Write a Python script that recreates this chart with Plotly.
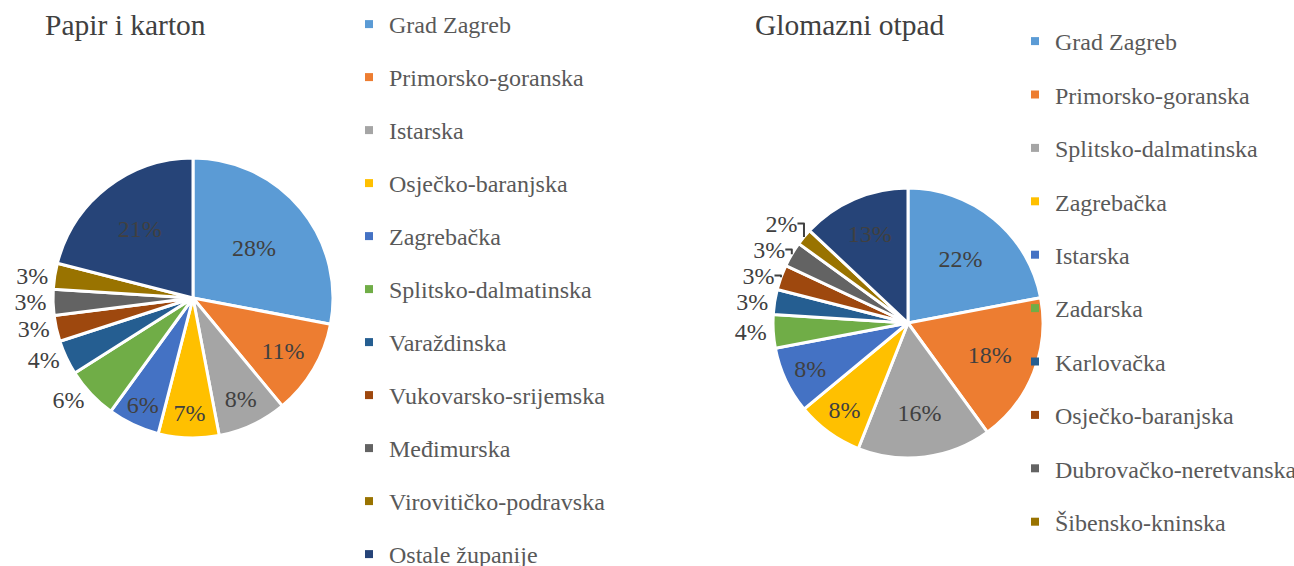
import plotly.graph_objects as go

# ---- data ----
labels_papir = ["Grad Zagreb", "Primorsko-goranska", "Istarska", "Osječko-baranjska",
                "Zagrebačka", "Splitsko-dalmatinska", "Varaždinska", "Vukovarsko-srijemska",
                "Međimurska", "Virovitičko-podravska", "Ostale županije"]
values_papir = [28, 11, 8, 7, 6, 6, 4, 3, 3, 3, 21]

labels_glom = ["Grad Zagreb", "Primorsko-goranska", "Splitsko-dalmatinska", "Zagrebačka",
               "Istarska", "Zadarska", "Karlovačka", "Osječko-baranjska",
               "Dubrovačko-neretvanska", "Šibensko-kninska", "Ostale županije"]
values_glom = [22, 18, 16, 8, 8, 4, 3, 3, 3, 2, 13]

colors = ["#5B9BD5", "#ED7D31", "#A5A5A5", "#FFC000", "#4472C4", "#70AD47",
          "#255E91", "#9E480E", "#636363", "#997300", "#264478"]

pos_papir = ["inside"] * 5 + ["outside"] * 5 + ["inside"]
pos_glom = ["inside"] * 5 + ["outside"] * 5 + ["inside"]

FONT = "Liberation Serif, Times New Roman, serif"
TXT = "#404040"
LEG = "#595959"

fig = go.Figure()

fig.add_trace(go.Pie(
    labels=labels_papir, values=values_papir, sort=False, direction="clockwise",
    marker=dict(colors=colors, line=dict(color="white", width=3)),
    texttemplate="%{percent:.0%}", textposition=pos_papir,
    insidetextorientation="horizontal",
    textfont=dict(family=FONT, size=24, color=TXT),
    domain=dict(x=[53/1294, 333/1294], y=[(566-438)/566, (566-158)/566]),
    showlegend=False, name="Papir i karton",
))

fig.add_trace(go.Pie(
    labels=labels_glom, values=values_glom, sort=False, direction="clockwise",
    marker=dict(colors=colors, line=dict(color="white", width=3)),
    texttemplate="%{percent:.0%}", textposition=pos_glom,
    insidetextorientation="horizontal",
    textfont=dict(family=FONT, size=24, color=TXT),
    domain=dict(x=[773/1294, 1043/1294], y=[(566-458)/566, (566-188)/566]),
    showlegend=False, name="Glomazni otpad",
))

# legend entries (one group per entry to control spacing)
for i, lab in enumerate(labels_papir):
    fig.add_trace(go.Scatter(
        x=[None], y=[None], mode="markers", name=lab,
        marker=dict(symbol="square", size=8, color=colors[i]),
        legend="legend", legendgroup="a%d" % i, showlegend=True, hoverinfo="skip",
    ))
for i, lab in enumerate(labels_glom[:10]):
    fig.add_trace(go.Scatter(
        x=[None], y=[None], mode="markers", name=lab,
        marker=dict(symbol="square", size=8, color=colors[i]),
        legend="legend2", legendgroup="b%d" % i, showlegend=True, hoverinfo="skip",
    ))

fig.update_layout(
    width=1294, height=566,
    margin=dict(l=0, r=0, t=0, b=0, autoexpand=False),
    paper_bgcolor="white", plot_bgcolor="white",
    xaxis=dict(visible=False), yaxis=dict(visible=False),
    font=dict(family=FONT, color=TXT),
    legend=dict(x=349/1294, y=(566-2)/566, xanchor="left", yanchor="top",
                traceorder="grouped", tracegroupgap=18.8, maxheight=900,
                font=dict(family=FONT, size=24, color=LEG), bgcolor="rgba(0,0,0,0)"),
    legend2=dict(x=1015/1294, y=(566-19)/566, xanchor="left", yanchor="top",
                 traceorder="grouped", tracegroupgap=19.2, maxheight=900,
                 font=dict(family=FONT, size=24, color=LEG), bgcolor="rgba(0,0,0,0)"),
    annotations=[
        dict(text="Papir i karton", x=43/1294, y=(566-25)/566, xref="paper", yref="paper",
             xanchor="left", yanchor="middle", showarrow=False,
             font=dict(family=FONT, size=29.5, color=TXT)),
        dict(text="Glomazni otpad", x=753/1294, y=(566-25)/566, xref="paper", yref="paper",
             xanchor="left", yanchor="middle", showarrow=False,
             font=dict(family=FONT, size=29.5, color=TXT)),
    ],
)

fig.write_html("out.html", config={"displayModeBar": False},
               post_script="document.body.style.margin='0';")
